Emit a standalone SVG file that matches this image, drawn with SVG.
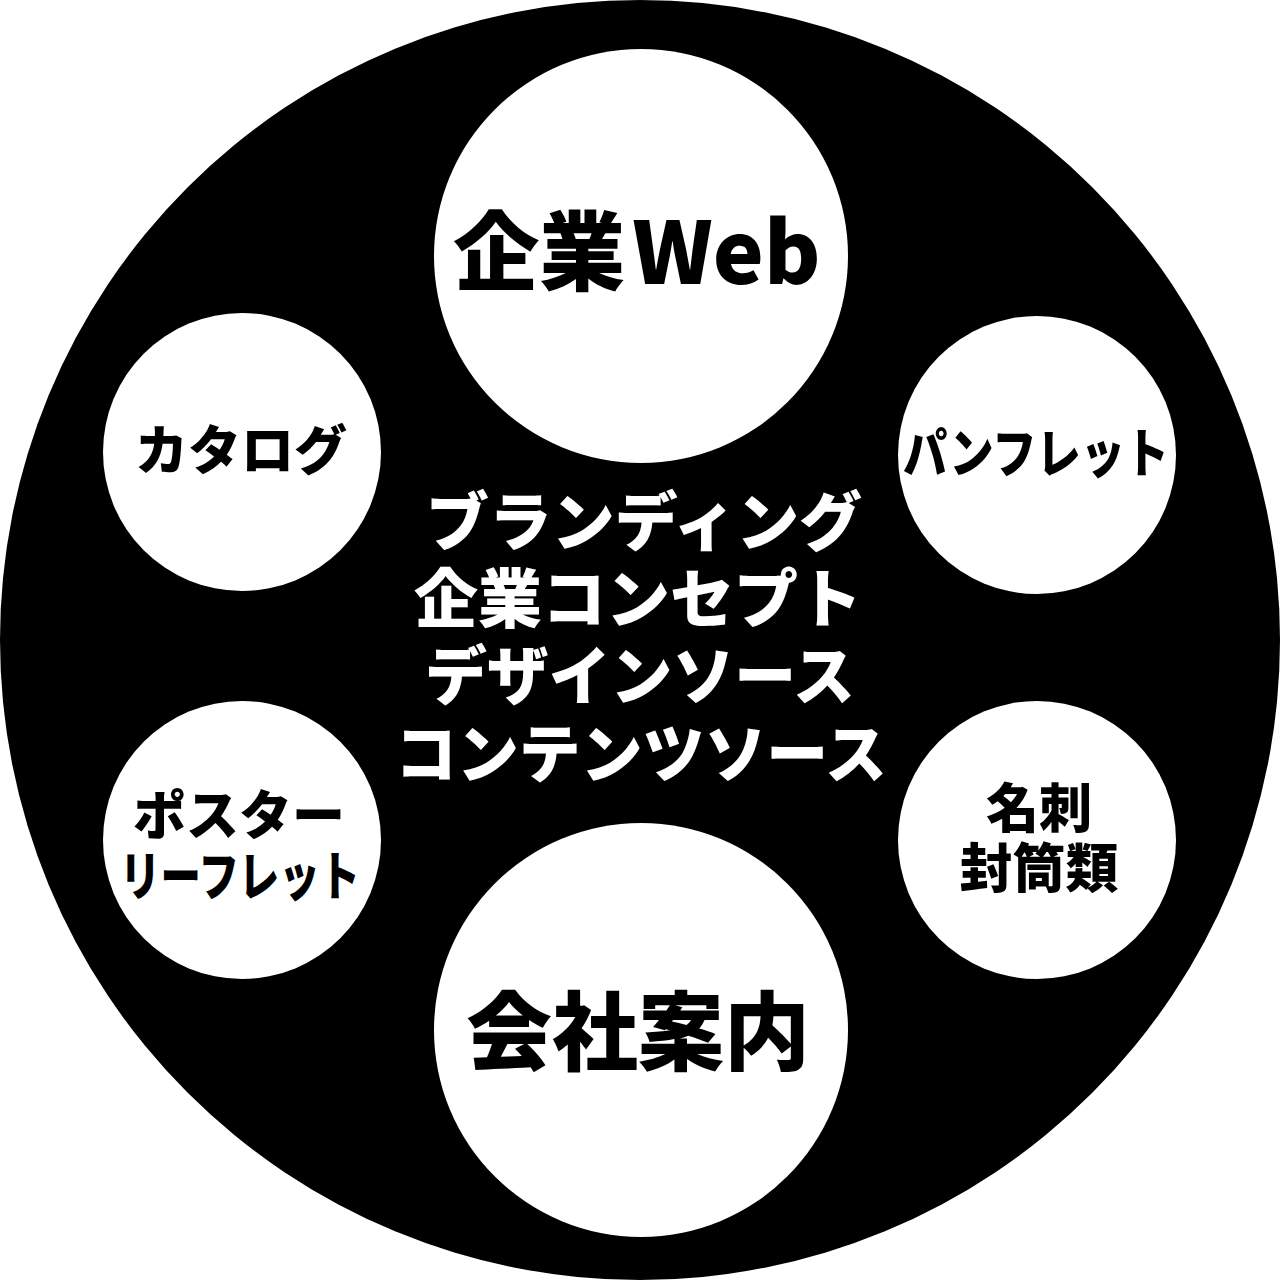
<svg xmlns="http://www.w3.org/2000/svg" width="1280" height="1280" viewBox="0 0 1280 1280">
<style>
  text { font-family: "Noto Sans CJK JP", "Noto Sans", sans-serif; font-weight: 900; text-anchor: middle; }
  .node { fill: #ffffff; }
  .lbl { fill: #000000; }
  .big { font-size: 86px; }
  .mid { font-size: 53px; }
  .center { fill: #ffffff; font-size: 64px; }
</style>
<rect width="1280" height="1280" fill="#ffffff"/>
<g id="outer">
  <circle cx="640" cy="640" r="640" fill="#000000"/>
</g>
<g id="connectors"></g>
<g id="center-text">
  <text class="center" x="644" y="545" textLength="436" lengthAdjust="spacingAndGlyphs">ブランディング</text>
  <text class="center" x="638" y="622" textLength="448" lengthAdjust="spacingAndGlyphs">企業コンセプト</text>
  <text class="center" x="640" y="699" textLength="430" lengthAdjust="spacingAndGlyphs">デザインソース</text>
  <text class="center" x="641" y="777" textLength="492" lengthAdjust="spacingAndGlyphs">コンテンツソース</text>
</g>
<g id="node-web">
  <circle class="node" cx="641" cy="256" r="207"/>
  <text class="lbl big" x="637" y="284">企業<tspan dx="7">Web</tspan></text>
</g>
<g id="node-company">
  <circle class="node" cx="641" cy="1030" r="207"/>
  <text class="lbl big" x="638" y="1064">会社案内</text>
</g>
<g id="node-catalog">
  <circle class="node" cx="242" cy="452" r="139"/>
  <text class="lbl mid" x="241" y="470">カタログ</text>
</g>
<g id="node-pamphlet">
  <circle class="node" cx="1037" cy="455" r="139"/>
  <text class="lbl mid" x="1036" y="473" textLength="266" lengthAdjust="spacingAndGlyphs">パンフレット</text>
</g>
<g id="node-poster">
  <circle class="node" cx="242" cy="840" r="139"/>
  <text class="lbl mid" x="239" y="835">ポスター</text>
  <text class="lbl mid" x="240" y="896" textLength="240" lengthAdjust="spacingAndGlyphs">リーフレット</text>
</g>
<g id="node-card">
  <circle class="node" cx="1037" cy="840" r="139"/>
  <text class="lbl mid" x="1039" y="828">名刺</text>
  <text class="lbl mid" x="1039" y="888">封筒類</text>
</g>
</svg>
